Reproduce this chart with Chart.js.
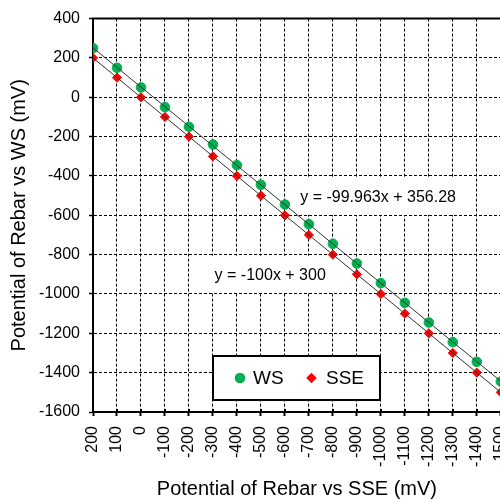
<!DOCTYPE html>
<html><head><meta charset="utf-8">
<script src="https://cdn.jsdelivr.net/npm/chart.js@4/dist/chart.umd.min.js"></script>
<style>html,body{margin:0;padding:0;overflow:hidden;background:#fff;width:500px;height:501px}canvas{display:block}</style>
</head><body>
<canvas id="c" width="530" height="501"></canvas>
<script>
// ---- data ----
const sseX = [200,100,0,-100,-200,-300,-400,-500,-600,-700,-800,-900,-1000,-1100,-1200,-1300,-1400,-1500];
const wsValues = [250,150,50,-50,-150,-240,-345,-445,-545,-645,-745,-845,-945,-1045,-1145,-1245,-1345,-1445];
const sseValues = [200,100,0,-100,-200,-300,-400,-500,-600,-700,-800,-900,-1000,-1100,-1200,-1300,-1400,-1500];
const seriesNames = ['WS','SSE'];
const trendText = ['y = -99.963x + 356.28','y = -100x + 300'];
const trendTextAt = [[-664,-512],[-307,-907]]; // data units (x, y) of left/middle of label
const xTitle = 'Potential of Rebar vs SSE (mV)';
const yTitle = 'Potential of Rebar vs WS (mV)';

const GREEN = '#00B050', RED = '#FF0000';
const FONT = 'Arial, "Liberation Sans", sans-serif';

function fit(xs, ys){
  const n = xs.length;
  const mx = xs.reduce((a,b)=>a+b,0)/n, my = ys.reduce((a,b)=>a+b,0)/n;
  let sxy=0, sxx=0;
  for(let i=0;i<n;i++){ sxy += (xs[i]-mx)*(ys[i]-my); sxx += (xs[i]-mx)*(xs[i]-mx); }
  const m = sxy/sxx, b = my - m*mx;
  const x0 = xs[0], x1 = xs[n-1];
  return [{x:x0,y:m*x0+b},{x:x1,y:m*x1+b}];
}
const pts = (xs, ys) => xs.map((x,i)=>({x, y: ys[i]}));

const extras = {
  id: 'extras',
  beforeDatasetsDraw(chart){
    const {ctx, scales:{x, y}} = chart;
    ctx.save();
    ctx.font = '16px ' + FONT;
    ctx.textBaseline = 'middle'; ctx.textAlign = 'left';
    trendText.forEach((t,i) => {
      const px = x.getPixelForValue(trendTextAt[i][0]), py = y.getPixelForValue(trendTextAt[i][1]);
      const w = ctx.measureText(t).width;
      ctx.fillStyle = '#fff';
      ctx.fillRect(px - 12, py - 20, w + 24, 37);
      ctx.fillStyle = '#000';
      ctx.fillText(t, px, py);
    });
    ctx.restore();
  },
  afterDraw(chart){
    const {ctx, chartArea: a, scales:{x}} = chart;
    ctx.save();
    // top frame line
    ctx.strokeStyle = '#000'; ctx.lineWidth = 2;
    ctx.beginPath(); ctx.moveTo(a.left-1, a.top); ctx.lineTo(a.right+1, a.top); ctx.stroke();
    // inner part of bottom tick marks
    ctx.lineWidth = 2;
    sseX.forEach(v => {
      const px = Math.round(x.getPixelForValue(v));
      ctx.beginPath(); ctx.moveTo(px, a.bottom); ctx.lineTo(px, a.bottom - 3); ctx.stroke();
    });
    // legend
    const L = 213, T = 356, W = 167, H = 44;
    ctx.fillStyle = '#fff'; ctx.fillRect(L, T, W, H);
    ctx.strokeStyle = '#000'; ctx.lineWidth = 2; ctx.strokeRect(L, T, W, H);
    const cy = T + H/2;
    ctx.fillStyle = GREEN;
    ctx.beginPath(); ctx.arc(240, cy, 5.3, 0, Math.PI*2); ctx.fill();
    ctx.fillStyle = RED;
    ctx.beginPath(); ctx.moveTo(311.5, cy-5.3); ctx.lineTo(316.8, cy); ctx.lineTo(311.5, cy+5.3); ctx.lineTo(306.2, cy); ctx.closePath(); ctx.fill();
    ctx.fillStyle = '#000'; ctx.font = '19px ' + FONT;
    ctx.textBaseline = 'middle'; ctx.textAlign = 'left';
    ctx.fillText(seriesNames[0], 253, cy+1);
    ctx.fillText(seriesNames[1], 326, cy+1);
    ctx.restore();
  }
};

new Chart(document.getElementById('c'), {
  type: 'scatter',
  data: {
    datasets: [
      { label: seriesNames[0]+' trend', data: fit(sseX, wsValues), showLine: true, borderColor: '#333', borderWidth: 1, pointRadius: 0, order: 0 },
      { label: seriesNames[1]+' trend', data: fit(sseX, sseValues), showLine: true, borderColor: '#333', borderWidth: 1, pointRadius: 0, order: 0 },
      { label: seriesNames[0], data: pts(sseX, wsValues), pointStyle: 'circle', pointRadius: 4.8, pointBorderWidth: 1, backgroundColor: GREEN, borderColor: GREEN, order: 1 },
      { label: seriesNames[1], data: pts(sseX, sseValues), pointStyle: 'rectRot', pointRadius: 4.6, pointBorderWidth: 1, backgroundColor: RED, borderColor: RED, order: 1 }
    ]
  },
  options: {
    responsive: false, animation: false,
    layout: { padding: { left: 0, top: 17, right: 28, bottom: 0 } },
    plugins: { legend: { display: false }, tooltip: { enabled: false } },
    scales: {
      x: {
        type: 'linear', reverse: true, min: -1500, max: 200,
        afterFit: s => { s.height = 89; },
        ticks: { stepSize: 100, autoSkip: false, minRotation: 90, maxRotation: 90, padding: 10, color: '#000',
                 font: { family: FONT, size: 16 }, callback: v => String(v) },
        grid: { color: '#000', lineWidth: 1, tickLength: 4, tickWidth: 2, tickColor: '#000' },
        border: { display: true, color: '#000', width: 2, dash: [3,2] },
        title: { display: true, text: xTitle, color: '#000', font: { family: FONT, size: 20 }, padding: { top: 0, bottom: 0 } }
      },
      y: {
        min: -1600, max: 400,
        afterFit: s => { s.width = 93; },
        ticks: { stepSize: 200, padding: 9, color: '#000', font: { family: FONT, size: 16 }, callback: v => String(v) },
        grid: { color: '#000', lineWidth: 1, tickLength: 4, tickWidth: 1.5, tickColor: '#000' },
        border: { display: true, color: '#000', width: 2, dash: [3,2] },
        title: { display: true, text: yTitle, color: '#000', font: { family: FONT, size: 20 }, padding: { top: 7, bottom: 0 } }
      }
    }
  },
  plugins: [extras]
});
</script>
</body></html>
